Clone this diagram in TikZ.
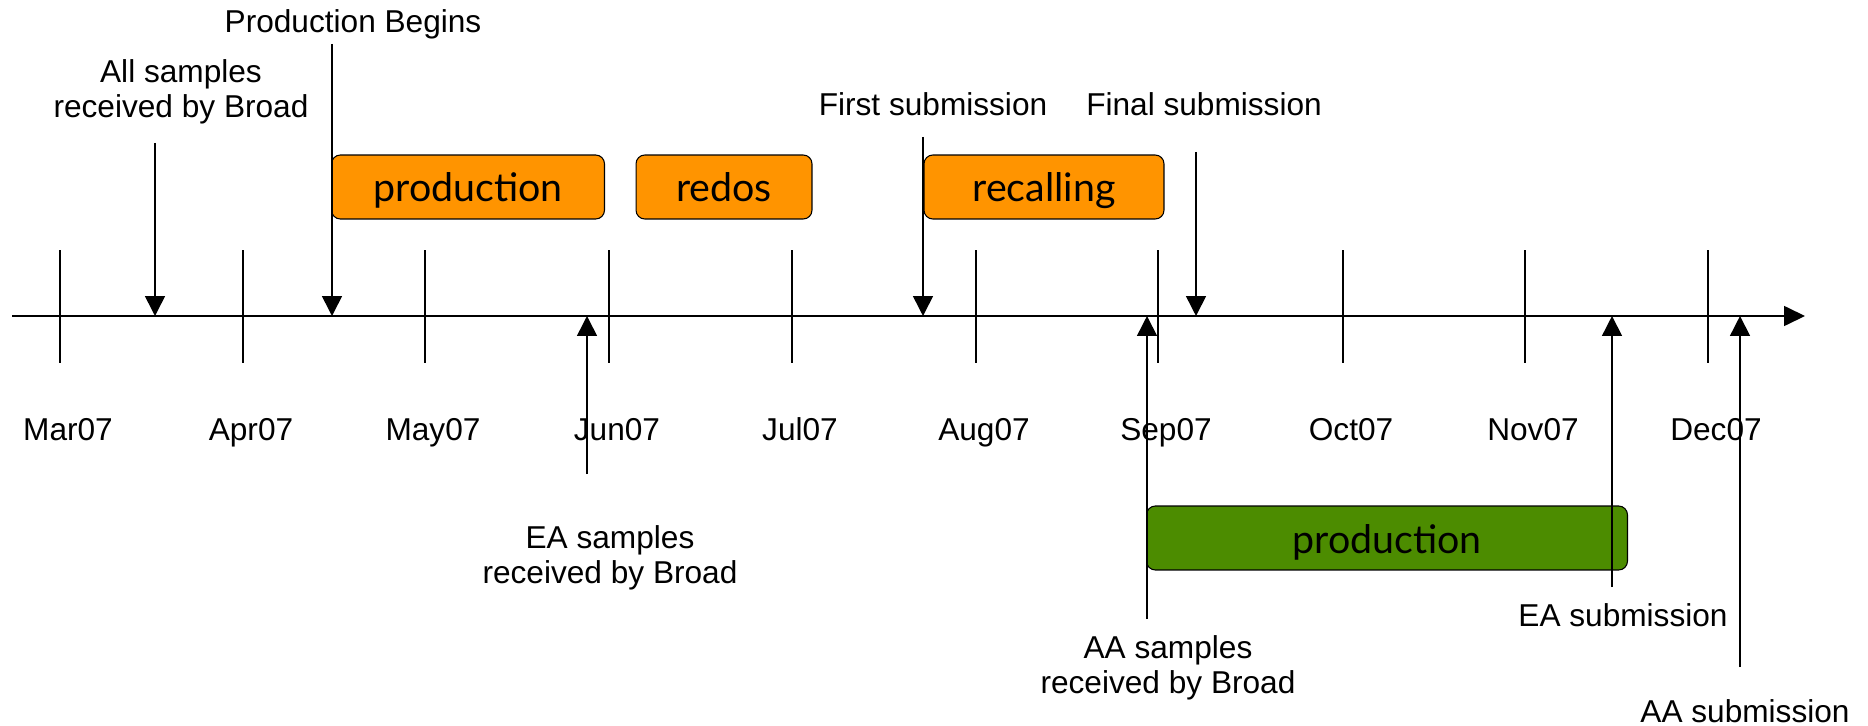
\documentclass[tikz,border=0pt]{standalone}
\usepackage{fontspec}
\setmainfont{Liberation Sans}
\newfontfamily\phasefont{Lato}
\usepackage{xcolor}
\usepackage{tikz}
\usetikzlibrary{arrows.meta}
\definecolor{phaseorange}{RGB}{255,148,0}
\definecolor{phasegreen}{RGB}{76,140,0}

\tikzset{
  lbl/.style={align=center, font=\fontsize{18}{20}\selectfont, inner sep=0pt},
  phase/.style={draw=black, line width=0.6pt, rounded corners=5pt, fill=phaseorange,
    minimum height=1.28cm, inner sep=0pt, text height=0.6cm, text depth=0cm,
    font=\phasefont\fontsize{22.4}{26}\selectfont},
  evt/.style={line width=0.9pt, -{Triangle[length=0.4cm, width=0.4cm]}}
}

\begin{document}
\begin{tikzpicture}[x=0.02cm, y=-0.02cm]
\useasboundingbox (0,0) rectangle (1868,726);
% time axis
\coordinate (ax0) at (12,316);
\coordinate (ax1) at (1805,316);
\draw[line width=0.9pt, -{Triangle[length=0.42cm, width=0.4cm]}] (ax0) - - (ax1);
\foreach \x/\m [count=\i] in {60/Mar07, 243/Apr07, 425/May07, 609/Jun07, 792/Jul07,
    976/Aug07, 1158/Sep07, 1343/Oct07, 1525/Nov07, 1708/Dec07} {
  \draw[line width=0.9pt] (\x,250) - - (\x,363);
  \node[lbl, anchor=base] (m\i) at (\x+8,440) {\m};
}
% phases
\node[phase, minimum width=5.46cm] (prodA) at (468,187) {production};
\node[phase, minimum width=3.52cm] (redos) at (724,187) {redos};
\node[phase, minimum width=4.8cm] (recall) at (1044,187) {recalling};
\node[phase, fill=phasegreen, minimum width=9.62cm] (prodB) at (1387,538) {production};
% events above the axis
\node[lbl] (allRecv) at (181,92) {All samples\\received by Broad};
\node[lbl] (prodBeg) at (353,24) {Production Begins};
\node[lbl] (firstSub) at (933,104) {First submission};
\node[lbl] (finalSub) at (1204,104) {Final submission};
\coordinate (allS) at (155,143);   \coordinate (allE) at (155,316);
\coordinate (begS) at (332,44);    \coordinate (begE) at (332,316);
\coordinate (firstS) at (923,137); \coordinate (firstE) at (923,316);
\coordinate (finalS) at (1196,152);\coordinate (finalE) at (1196,316);
\draw[evt] (allS) - - (allE);
\draw[evt] (begS) - - (begE);
\draw[evt] (firstS) - - (firstE);
\draw[evt] (finalS) - - (finalE);
% events below the axis
\node[lbl] (eaRecv) at (610,558) {EA samples\\received by Broad};
\node[lbl] (aaRecv) at (1168,668) {AA samples\\received by Broad};
\node[lbl] (eaSub) at (1623,615) {EA submission};
\node[lbl] (aaSub) at (1745,711) {AA submission};
\coordinate (eaRS) at (587,474);   \coordinate (eaRE) at (587,316);
\coordinate (aaRS) at (1147,619);  \coordinate (aaRE) at (1147,316);
\coordinate (eaSS) at (1612,587);  \coordinate (eaSE) at (1612,316);
\coordinate (aaSS) at (1740,667);  \coordinate (aaSE) at (1740,316);
\draw[evt] (eaRS) - - (eaRE);
\draw[evt] (aaRS) - - (aaRE);
\draw[evt] (eaSS) - - (eaSE);
\draw[evt] (aaSS) - - (aaSE);
\end{tikzpicture}
\end{document}
